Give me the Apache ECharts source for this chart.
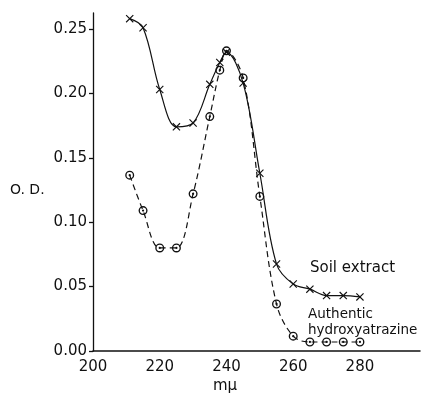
<!DOCTYPE html>
<html>
<head>
<meta charset="utf-8">
<script src="https://cdn.jsdelivr.net/npm/echarts@6/dist/echarts.min.js"></script>
<style>
  html, body { margin: 0; padding: 0; background: #fff; }
  #chart { width: 425px; height: 394px; }
</style>
</head>
<body>
<div id="chart"></div>
<script>
// wavelength (mμ) and optical density readings
const soilX = [211, 215, 220, 225, 230, 235, 238, 240, 245, 250, 255, 260, 265, 270, 275, 280]
const soilOD = [0.258, 0.251, 0.203, 0.174, 0.177, 0.207, 0.224, 0.232, 0.208, 0.138, 0.0675, 0.052, 0.048, 0.043, 0.043, 0.042]
const hydroX = [211, 215, 220, 225, 230, 235, 238, 240, 245, 250, 255, 260, 265, 270, 275, 280]
const hydroOD = [0.1365, 0.109, 0.080, 0.080, 0.122, 0.182, 0.218, 0.233, 0.212, 0.120, 0.0365, 0.0115, 0.007, 0.007, 0.007, 0.007]
const xTicks = [200, 220, 240, 260, 280]
const yTicks = [0, 0.05, 0.10, 0.15, 0.20, 0.25]

const font = 'DejaVu Sans'
const crossPath = 'path://M-5,-4L-4,-5L5,4L4,5Z M4,-5L5,-4L-4,5L-5,4Z'
const ringDotPath = 'path://M0,-10A10,10 0 1,1 0,10A10,10 0 1,1 0,-10Z M0,-7A7,7 0 1,0 0,7A7,7 0 1,0 0,-7Z M0,-2.5A2.5,2.5 0 1,1 0,2.5A2.5,2.5 0 1,1 0,-2.5Z'

const chart = echarts.init(document.getElementById('chart'))

chart.setOption({
  animation: false,
  backgroundColor: '#fff',
  grid: { left: 93, right: 5, top: 13, bottom: 43, outerBoundsMode: 'none' },
  xAxis: {
    type: 'value',
    min: 200,
    max: 298,
    axisLine: { lineStyle: { color: '#111', width: 1.5 } },
    axisTick: { show: false },
    splitLine: { show: false },
    axisLabel: {
      customValues: xTicks,
      color: '#111', fontFamily: font, fontSize: 15, margin: 9
    }
  },
  yAxis: {
    type: 'value',
    min: 0,
    max: 0.2624,
    axisLine: { lineStyle: { color: '#111', width: 1.3 } },
    axisTick: { customValues: yTicks, length: 4, lineStyle: { color: '#111', width: 1.3 } },
    splitLine: { show: false },
    axisLabel: {
      customValues: yTicks,
      formatter: (v) => v.toFixed(2),
      color: '#111', fontFamily: font, fontSize: 15, margin: 6
    }
  },
  graphic: [
    { type: 'text', left: 10, top: 183, style: { text: 'O. D.', fill: '#111', font: '14px ' + font } },
    { type: 'text', left: 213, top: 379, style: { text: 'mμ', fill: '#111', font: '15px ' + font } },
    { type: 'text', left: 310, top: 261, style: { text: 'Soil extract', fill: '#111', font: '15px ' + font } },
    { type: 'text', left: 308, top: 306, style: { text: 'Authentic\nhydroxyatrazine', fill: '#111', font: '13.5px ' + font, lineHeight: 16 } }
  ],
  series: [
    {
      name: 'Soil extract',
      type: 'line',
      data: soilX.map((x, i) => [x, soilOD[i]]),
      smooth: 0.35,
      symbol: crossPath,
      symbolSize: 8,
      itemStyle: { color: '#111' },
      lineStyle: { color: '#111', width: 1.2 }
    },
    {
      name: 'Authentic hydroxyatrazine',
      type: 'line',
      data: hydroX.map((x, i) => [x, hydroOD[i]]),
      smooth: 0.35,
      symbol: ringDotPath,
      symbolSize: 9,
      itemStyle: { color: '#111' },
      lineStyle: { color: '#111', width: 1.2, type: [6, 4] }
    }
  ]
})
</script>
</body>
</html>
